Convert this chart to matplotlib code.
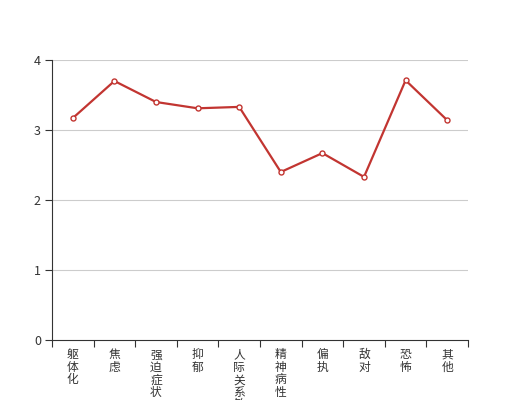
import matplotlib
matplotlib.use('Agg')
import matplotlib.pyplot as plt
import numpy as np

plt.rcParams['font.family'] = ['Noto Sans CJK SC', 'DejaVu Sans']

categories = ['躯体化', '焦虑', '强迫症状', '抑郁', '人际关系敏感',
              '精神病性', '偏执', '敌对', '恐怖', '其他']
values = [3.17, 3.70, 3.40, 3.31, 3.33, 2.40, 2.67, 2.33, 3.71, 3.14]
y_ticks = [0, 1, 2, 3, 4]

fig = plt.figure(figsize=(5.2, 4.0), dpi=100)
ax = fig.add_axes([52 / 520, 0.15, 416 / 520, 0.70])

x = np.arange(len(categories))
ax.plot(x, values, color='#c23531', linewidth=1.6, marker='o', markersize=3.6,
        markerfacecolor='white', markeredgecolor='#c23531', markeredgewidth=1,
        zorder=3)

ax.set_xlim(-0.5, len(categories) - 0.5)
ax.set_ylim(0, 4)
ax.set_yticks(y_ticks)
ax.set_yticklabels([str(v) for v in y_ticks])
for v in y_ticks[1:]:
    ax.axhline(v, color='#cccccc', linewidth=0.8, zorder=1)

# vertical labels: one character per line
ax.set_xticks(x)
ax.set_xticklabels(['\n'.join(c) for c in categories], linespacing=0.95,
                   va='top')
ax.set_xticks(np.arange(-0.5, len(categories)), minor=True)
ax.tick_params(axis='x', which='major', length=0, pad=6, labelsize=8.5,
               labelcolor='#333333')
ax.tick_params(axis='x', which='minor', length=5, color='#333333', width=0.8)
ax.tick_params(axis='y', length=5, color='#333333', width=0.8, labelsize=9,
               labelcolor='#333333', pad=3)

for s in ['top', 'right']:
    ax.spines[s].set_visible(False)
for s in ['left', 'bottom']:
    ax.spines[s].set_color('#333333')
    ax.spines[s].set_linewidth(0.8)

fig.savefig('out.png', dpi=100)
